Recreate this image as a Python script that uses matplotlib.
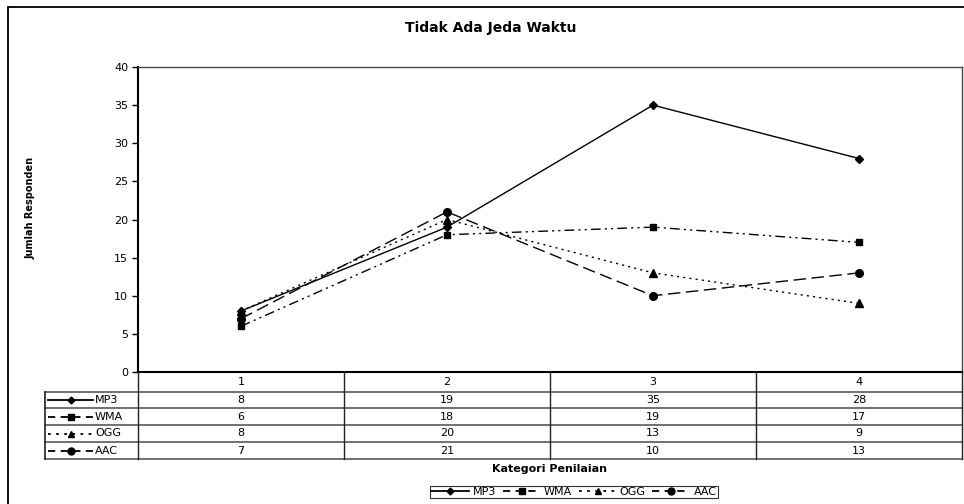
import matplotlib
matplotlib.use("Agg")
import matplotlib.pyplot as plt
from matplotlib.lines import Line2D
from matplotlib.patches import Rectangle

# data
categories = [1, 2, 3, 4]
series_names = ["MP3", "WMA", "OGG", "AAC"]
mp3 = [8, 19, 35, 28]
wma = [6, 18, 19, 17]
ogg = [8, 20, 13, 9]
aac = [7, 21, 10, 13]
y_ticks = [0, 5, 10, 15, 20, 25, 30, 35, 40]

series = [mp3, wma, ogg, aac]

# line style in the plot, and the shorter style used for legend keys
styles = [
    dict(ls="-", key_ls="-", marker="D", ms=4),
    dict(ls=(0, (7, 3, 1.5, 3, 1.5, 3)), key_ls=(0, (4, 3)), marker="s", ms=5),
    dict(ls=(0, (1.5, 3)), key_ls=(0, (1.5, 3)), marker="^", ms=5.5),
    dict(ls=(0, (9, 4)), key_ls=(0, (4, 3)), marker="o", ms=5.5),
]

W, H = 964, 504
fig = plt.figure(figsize=(W / 100, H / 100), dpi=100)


def px_box(x0, y0, x1, y1):
    # pixel box with top-left origin -> figure rect
    return [x0 / W, 1 - y1 / H, (x1 - x0) / W, (y1 - y0) / H]


# outer chart frame, runs off the right and bottom edge
fig.patches.append(Rectangle((8 / W, -0.2), 1.5, (1 - 7 / H) + 0.2,
                             transform=fig.transFigure, fill=False,
                             ec="black", lw=1.3))

ax = fig.add_axes(px_box(138, 67, 962, 372))
for vals, st in zip(series, styles):
    ax.plot(categories, vals, color="black", lw=1.0, ls=st["ls"],
            marker=st["marker"], ms=st["ms"], mfc="black", mec="black")

ax.set_xlim(0.5, 4.5)
ax.set_ylim(0, 40)
ax.set_yticks(y_ticks)
ax.set_xticks([])
ax.tick_params(axis="y", direction="out", length=4, width=1, labelsize=8, pad=3)
ax.spines["left"].set_linewidth(1.5)
ax.spines["bottom"].set_linewidth(1.5)
for s in ("top", "right"):
    ax.spines[s].set_color("#444444")
    ax.spines[s].set_linewidth(1.0)

# data table under the plot
unit = 824 / 4
x_left = 0.5 - 93 / unit
ax_tab = fig.add_axes(px_box(45, 372, 962, 459))
ax_tab.set_xlim(x_left, 4.5)
ax_tab.set_ylim(87, 0)
ax_tab.axis("off")

row_edges = [0, 20, 36, 53, 70, 87]
hcol = "#666666"
for y in row_edges[1:]:
    ax_tab.plot([x_left, 4.5], [y, y], color=hcol, lw=1.3, clip_on=False)
for x in [0.5, 1.5, 2.5, 3.5, 4.5]:
    ax_tab.plot([x, x], [0, 87], color="#222222", lw=1.0, clip_on=False)
ax_tab.plot([x_left, x_left], [20, 87], color="#222222", lw=1.2, clip_on=False)

for c in categories:
    ax_tab.text(c, 10, str(c), ha="center", va="center", fontsize=8)

k0 = 0.5 - 90 / unit
k1 = 0.5 - 45 / unit
km = (k0 + k1) / 2
for i, (name, vals, st) in enumerate(zip(series_names, series, styles)):
    yc = (row_edges[i + 1] + row_edges[i + 2]) / 2
    ax_tab.plot([k0, k1], [yc, yc], color="black", lw=1.3, ls=st["key_ls"], clip_on=False)
    ax_tab.plot([km], [yc], color="black", marker=st["marker"], ms=st["ms"] - 0.5,
                clip_on=False)
    ax_tab.text(0.5 - 43 / unit, yc, name, ha="left", va="center", fontsize=8)
    for c, v in zip(categories, vals):
        ax_tab.text(c, yc, str(v), ha="center", va="center", fontsize=8)

fig.text(491 / W, 1 - 28 / H, "Tidak Ada Jeda Waktu", ha="center", va="center",
         fontsize=10, fontweight="bold")
fig.text(31 / W, 1 - 208 / H, "Jumlah Responden", ha="center", va="center",
         rotation=90, fontsize=7, fontweight="bold")
fig.text(550 / W, 1 - 469 / H, "Kategori Penilaian", ha="center", va="center",
         fontsize=8, fontweight="bold")

handles = [Line2D([], [], color="black", lw=1.3, ls=st["key_ls"], marker=st["marker"],
                  ms=st["ms"] - 0.5) for st in styles]
leg = fig.legend(handles, series_names, loc="center",
                 bbox_to_anchor=(574 / W, 1 - 492 / H), ncol=4, frameon=True,
                 fancybox=False, edgecolor="black", fontsize=8, handlelength=3.4,
                 handletextpad=0.3, columnspacing=0.6, borderpad=0.1)
leg.get_frame().set_linewidth(0.8)

fig.savefig("out.png", dpi=100)
